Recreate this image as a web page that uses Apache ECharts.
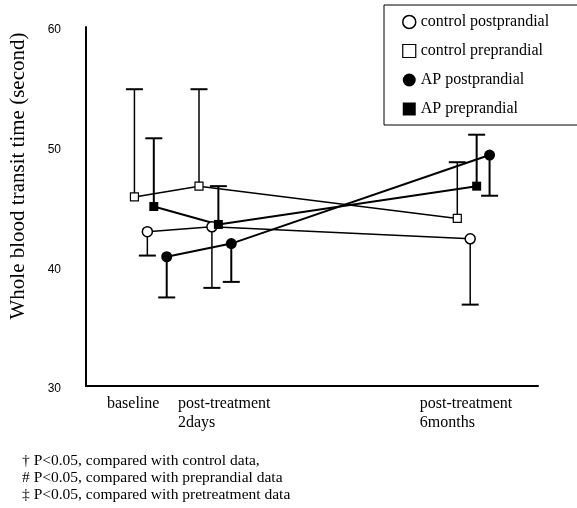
<!DOCTYPE html>
<html><head><meta charset="utf-8">
<script src="https://cdn.jsdelivr.net/npm/echarts@6/dist/echarts.min.js"></script>
<style>html,body{margin:0;padding:0;background:#fff}#c{width:577px;height:508px}</style>
</head><body><div id="c"></div>
<script>
// ---- data ----
const categories = ['baseline', 'post-treatment\n2days', 'post-treatment\n6months'];
const categoryX = [1, 2, 6];
const seriesNames = ['control postprandial', 'control preprandial', 'AP postprandial', 'AP preprandial'];
const controlPost = [42.9, 43.3, 42.3];
const controlPostErrEnd = [40.9, 38.2, 36.8];
const controlPre = [45.8, 46.7, 44.0];
const controlPreErrEnd = [54.8, 54.8, 48.7];
const apPost = [40.8, 41.9, 49.3];
const apPostErrEnd = [37.4, 38.7, 45.9];
const apPre = [45.0, 43.5, 46.7];
const apPreErrEnd = [50.7, 46.7, 51.0];
const yTicks = [30, 40, 50, 60];
const yAxisTitle = 'Whole blood transit time (second)';
const footnotes = [
  '\u2020 P<0.05, compared with control data,',
  '# P<0.05, compared with preprandial data',
  '\u2021 P<0.05, compared with pretreatment data'
];

// ---- layout / style ----
const seriesOffset = [-0.05, -0.25, 0.25, 0.05];
const labelAnchorX = [0.325, 1.425, 5.17];
const serif = 'Liberation Serif';

const openStyle = { color: '#fff', borderColor: '#000', borderWidth: 1.5 };
const fillStyle = { color: '#000', borderColor: '#000', borderWidth: 0 };

function pts(vals, off) { return vals.map((v, i) => [categoryX[i] + off, v]); }

function lineSeries(name, vals, off, symbol, size, style, lw) {
  return {
    name: name, type: 'line', data: pts(vals, off), z: 3,
    symbol: symbol, symbolSize: size, showSymbol: true,
    itemStyle: style,
    lineStyle: { color: '#000', width: lw },
    emphasis: { disabled: true }, animation: false
  };
}

function errSeries(vals, ends, off, lw) {
  return {
    type: 'custom', z: 2, silent: true, animation: false,
    data: vals.map((v, i) => [categoryX[i] + off, v, ends[i]]),
    encode: { x: 0, y: [1, 2] },
    renderItem: function (params, api) {
      const p0 = api.coord([api.value(0), api.value(1)]);
      const p1 = api.coord([api.value(0), api.value(2)]);
      return {
        type: 'group', children: [
          { type: 'line', shape: { x1: p0[0], y1: p0[1], x2: p1[0], y2: p1[1] }, style: { stroke: '#000', lineWidth: lw } },
          { type: 'line', shape: { x1: p1[0] - 8.5, y1: p1[1], x2: p1[0] + 8.5, y2: p1[1] }, style: { stroke: '#000', lineWidth: 2 } }
        ]
      };
    }
  };
}

const chart = echarts.init(document.getElementById('c'), null, { renderer: 'canvas' });
chart.setOption({
  animation: false,
  backgroundColor: '#fff',
  title: {
    text: footnotes.join('\n'),
    left: 22, top: 452, padding: 0,
    textStyle: { fontFamily: serif, fontSize: 15.5, fontWeight: 'normal', lineHeight: 17, color: '#000' }
  },
  legend: {
    orient: 'vertical', left: 384, top: 5,
    padding: [9, 40, 8, 18], itemGap: 13,
    itemWidth: 13, itemHeight: 13,
    borderColor: '#000', borderWidth: 1,
    selectedMode: false,
    textStyle: { fontFamily: serif, fontSize: 16, color: '#000', lineHeight: 16 },
    data: [
      { name: seriesNames[0], icon: 'circle', itemStyle: openStyle },
      { name: seriesNames[1], icon: 'rect', itemStyle: { color: '#fff', borderColor: '#000', borderWidth: 1.2 } },
      { name: seriesNames[2], icon: 'circle', itemStyle: fillStyle },
      { name: seriesNames[3], icon: 'rect', itemStyle: fillStyle }
    ]
  },
  grid: { left: 86, right: 39, top: 27, bottom: 122, containLabel: false, outerBoundsMode: 'none' },
  xAxis: {
    type: 'value', min: 0, max: 7, interval: 1,
    splitLine: { show: false },
    axisLine: { show: true, lineStyle: { color: '#000', width: 2 } },
    axisTick: { show: false },
    axisLabel: {
      customValues: labelAnchorX,
      formatter: function (v) {
        let best = 0;
        for (let i = 1; i < labelAnchorX.length; i++) if (Math.abs(labelAnchorX[i] - v) < Math.abs(labelAnchorX[best] - v)) best = i;
        return categories[best];
      },
      align: 'left', margin: 8,
      fontFamily: serif, fontSize: 16, lineHeight: 19, color: '#000'
    }
  },
  yAxis: {
    type: 'value', min: yTicks[0], max: yTicks[yTicks.length - 1], interval: 10,
    name: yAxisTitle, nameLocation: 'middle', nameGap: 57,
    nameTextStyle: { fontFamily: serif, fontSize: 21, color: '#000', padding: [0, 0, 0, 61] },
    splitLine: { show: false },
    axisLine: { show: true, lineStyle: { color: '#000', width: 2 } },
    axisTick: { show: false },
    axisLabel: { margin: 25, fontFamily: 'Liberation Sans', fontSize: 12, color: '#000', verticalAlign: 'top', padding: [-3, 0, 0, 0] }
  },
  series: [
    errSeries(controlPost, controlPostErrEnd, seriesOffset[0], 1.5),
    errSeries(controlPre, controlPreErrEnd, seriesOffset[1], 1.5),
    errSeries(apPost, apPostErrEnd, seriesOffset[2], 2),
    errSeries(apPre, apPreErrEnd, seriesOffset[3], 2),
    lineSeries(seriesNames[0], controlPost, seriesOffset[0], 'circle', 10, openStyle, 1.5),
    lineSeries(seriesNames[1], controlPre, seriesOffset[1], 'rect', 8, { color: '#fff', borderColor: '#000', borderWidth: 1.2 }, 1.5),
    lineSeries(seriesNames[2], apPost, seriesOffset[2], 'circle', 11, fillStyle, 2),
    lineSeries(seriesNames[3], apPre, seriesOffset[3], 'rect', 9, fillStyle, 2)
  ]
});
</script>
</body></html>
